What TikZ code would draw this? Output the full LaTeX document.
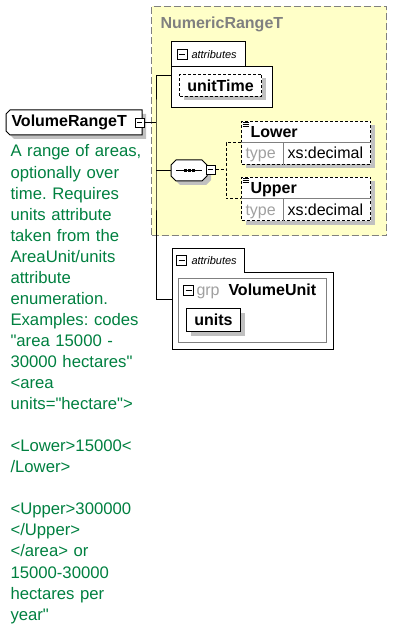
\documentclass[tikz,border=0pt]{standalone}
\usepackage{fontspec}
\setmainfont{Liberation Sans}[Ligatures=TeXOff]
\usetikzlibrary{shadows}

\definecolor{typefill}{RGB}{255,255,200}
\definecolor{typeline}{RGB}{128,128,128}
\definecolor{typegray}{RGB}{160,160,160}
\definecolor{docgreen}{RGB}{0,128,64}
\definecolor{shadowgray}{RGB}{192,192,192}

\tikzset{
  shadowed/.style={general shadow={fill=shadowgray, shadow xshift=4pt, shadow yshift=-4pt}},
  plainbox/.style={draw, fill=white, inner sep=0pt, anchor=north west},
  elem/.style={plainbox, shadowed},
  frame/.style={minimum width=#1, inner sep=0pt, anchor=north west},
  dotline/.style={dash pattern=on 3pt off 2pt},
  expander/.style={draw, fill=white, minimum size=9pt, inner sep=0pt,
    path picture={\draw ([xshift=2pt]path picture bounding box.west)
      -- ([xshift=-2pt]path picture bounding box.east);}},
  nametext/.style={font=\fontsize{16}{19}\selectfont\bfseries, inner sep=0pt, anchor=base west},
  valtext/.style={font=\fontsize{16}{19}\selectfont, inner sep=0pt, anchor=base west},
  tabtext/.style={font=\fontsize{11}{13}\selectfont\itshape, inner sep=0pt, anchor=base west},
}

\begin{document}
\begin{tikzpicture}[x=1pt, y=-1pt, line width=1pt]
  \useasboundingbox (0,0) rectangle (404,628);

  % NumericRangeT
  \node[plainbox, draw=typeline, fill=typefill, dash pattern=on 7pt off 3pt,
    minimum width=235pt, minimum height=229pt] (numrange) at (151,6) {};
  \node[nametext, text=typeline] (numtitle) at (160,29) {NumericRangeT};

  % VolumeRangeT
  \node[frame=135pt, minimum height=24pt] (volume) at (6,110) {};
  \draw[fill=white, shadowed] ([xshift=4pt]volume.north west) -- (volume.north east)
    -- (volume.south east) -- ([xshift=4pt]volume.south west)
    -- ([yshift=4pt]volume.south west) -- ([yshift=-4pt]volume.north west) -- cycle;
  \node[nametext] (volname) at (11,127) {VolumeRangeT};
  \node[expander] (volexp) at (139.5,123) {};
  \coordinate (trunk) at (156,123);

  % attributes: unitTime
  \node[plainbox, minimum width=101pt, minimum height=41pt] (attrA) at (171,66) {};
  \node[fill=white, inner sep=0pt, minimum width=73pt, minimum height=24pt,
    anchor=south west] (attrAtab) at ([yshift=-1pt]attrA.north west) {};
  \draw (attrAtab.south west) |- (attrAtab.north east) -- (attrAtab.south east);
  \node[expander, minimum size=10pt] (attrAexp) at (182,54.5) {};
  \node[tabtext] (attrAlabel) at (191,59) {attributes};
  \node[elem, dotline, minimum width=82pt, minimum height=22pt,
    font=\fontsize{16}{19}\selectfont\bfseries] (unittime) at (179,74) {unitTime};

  % sequence: Lower, Upper
  \node[frame=35pt, minimum height=20pt] (seq) at (171,160) {};
  \draw[fill=white, shadowed] ([xshift=5pt]seq.north west) -- ([xshift=-5pt]seq.north east)
    -- ([yshift=-5pt]seq.north east) -- ([yshift=5pt]seq.south east)
    -- ([xshift=-5pt]seq.south east) -- ([xshift=5pt]seq.south west)
    -- ([yshift=5pt]seq.south west) -- ([yshift=-5pt]seq.north west) -- cycle;
  \draw ([xshift=5pt]seq.west) -- ([xshift=-5pt]seq.east);
  \foreach \dx in {-4,0,4}
    \fill ([xshift=\dx pt]seq.center) +(-1.5,-1.5) rectangle +(1.5,1.5);
  \node[expander] (seqexp) at (210.5,170) {};
  \coordinate (fork) at (226,170);

  \foreach \el/\ytop in {Lower/121,Upper/177} {
    \node[elem, dotline, minimum width=129pt, minimum height=43pt] (\el) at (241,\ytop) {};
    \draw[typeline] (\el.west) -- (\el.east);
    \draw[typeline] ([xshift=42pt]\el.west) -- ([xshift=42pt]\el.south west);
    \foreach \dy in {1.5,3.5,5.5}
      \draw[line width=.8pt] ([shift={(1.5,\dy)}]\el.north west) -- ++(6,0);
    \node[nametext] (\el-name) at (250,\ytop+17) {\el};
    \node[valtext, text=typegray] (\el-type) at (245,\ytop+38) {type};
    \node[valtext] (\el-value) at (287,\ytop+38) {xs:decimal};
  }

  % attributes: group VolumeUnit
  \node[plainbox, minimum width=161pt, minimum height=77pt] (attrB) at (172,272) {};
  \node[fill=white, inner sep=0pt, minimum width=71pt, minimum height=24pt,
    anchor=south west] (attrBtab) at ([yshift=-1pt]attrB.north west) {};
  \draw (attrBtab.south west) |- (attrBtab.north east) -- (attrBtab.south east);
  \node[expander, minimum size=10pt] (attrBexp) at (181.5,260) {};
  \node[tabtext] (attrBlabel) at (191,264) {attributes};
  \node[plainbox, draw=typeline, minimum width=148pt, minimum height=64pt] (grp) at (178,278) {};
  \node[expander, minimum size=10pt] (grpexp) at (188.5,290) {};
  \node[valtext, text=typegray] (grplabel) at (196,295) {grp};
  \node[nametext] (grpname) at (228,295) {VolumeUnit};
  \node[elem, minimum width=54pt, minimum height=23pt,
    font=\fontsize{16}{19}\selectfont\bfseries] (units) at (186,308) {units};

  % connectors
  \draw (volexp) -- (trunk);
  \draw ([yshift=-10pt]attrA.north west) -| (trunk) |- ([yshift=-27pt]attrB.north west);
  \draw (trunk |- seq) -- (seq);
  \draw[dotline] (seqexp) -- (fork);
  \draw[dotline] (Lower) -| (fork) |- (Upper);

  % documentation
  \node[text width=150pt, align=left, inner sep=0pt, anchor=base west, text=docgreen,
    font=\fontsize{16.7}{21.05}\selectfont\frenchspacing] (voldoc) at (10,157)
    {A range of areas,\\ optionally over\\ time. Requires\\ units attribute\\
     taken from the\\ AreaUnit/units\\ attribute\\ enumeration.\\
     Examples: codes\\ "area 15000 -\\ 30000 hectares"\\ <area\\
     units="hectare">\\[21.05pt] <Lower>15000<\\ /Lower>\\[21.05pt]
     <Upper>300000\\ </Upper>\\ </area> or\\ 15000-30000\\
     hectares per\\ year"};
\end{tikzpicture}
\end{document}
